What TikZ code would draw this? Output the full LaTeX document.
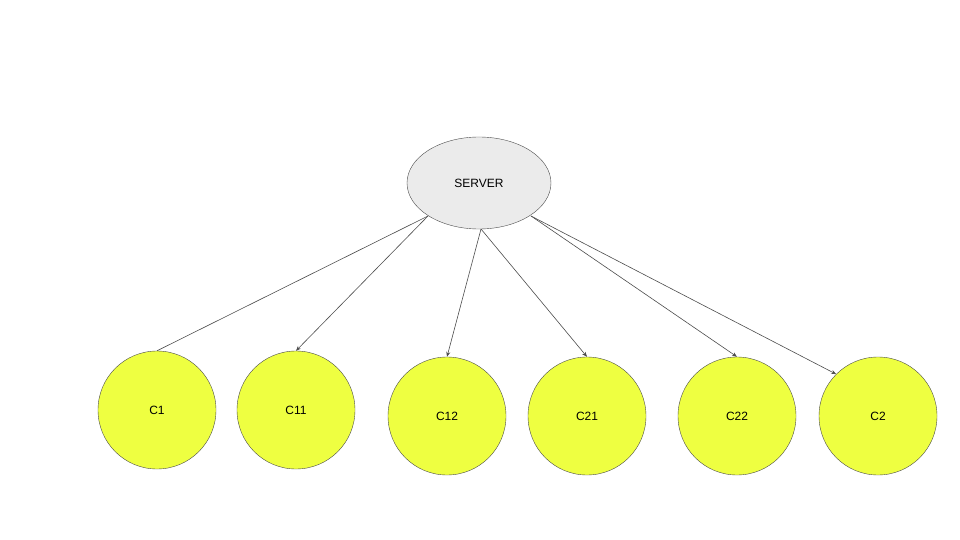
\documentclass[tikz,border=0pt]{standalone}
\usepackage{fontspec}
\setmainfont{Liberation Sans}
\usetikzlibrary{shapes.geometric,arrows.meta}
\begin{document}
\begin{tikzpicture}[x=1pt,y=-1pt,
  cl/.style={circle,draw=black!70,fill={rgb,255:red,238;green,255;blue,65},minimum size=118pt,inner sep=0pt,font=\fontsize{12}{14}\selectfont},
  ar/.style={draw=black!70,line width=0.6pt,-{Stealth[length=5pt,width=4pt]}},
  ln/.style={draw=black!70,line width=0.6pt}]
\useasboundingbox (0,0) rectangle (960,540);
\node[ellipse,draw=black!70,fill=black!8,minimum width=144pt,minimum height=92pt,inner sep=0pt,font=\fontsize{12}{14}\selectfont] (s) at (479,183) {SERVER};
\node[cl] (c1) at (157,410) {C1};
\node[cl] (c11) at (296,410) {C11};
\node[cl] (c12) at (447,416) {C12};
\node[cl] (c21) at (587,416) {C21};
\node[cl] (c22) at (737,416) {C22};
\node[cl] (c2) at (878,416) {C2};
\coordinate (a) at (428,216);
\coordinate (b) at (481,229);
\coordinate (c) at (531,216);
\draw[ln] (a) -- (c1.north);
\draw[ar] (a) -- (c11.north);
\draw[ar] (b) -- (c12.north);
\draw[ar] (b) -- (c21.north);
\draw[ar] (c) -- (c22.north);
\draw[ar] (c) -- (c2.north west);
\end{tikzpicture}
\end{document}
